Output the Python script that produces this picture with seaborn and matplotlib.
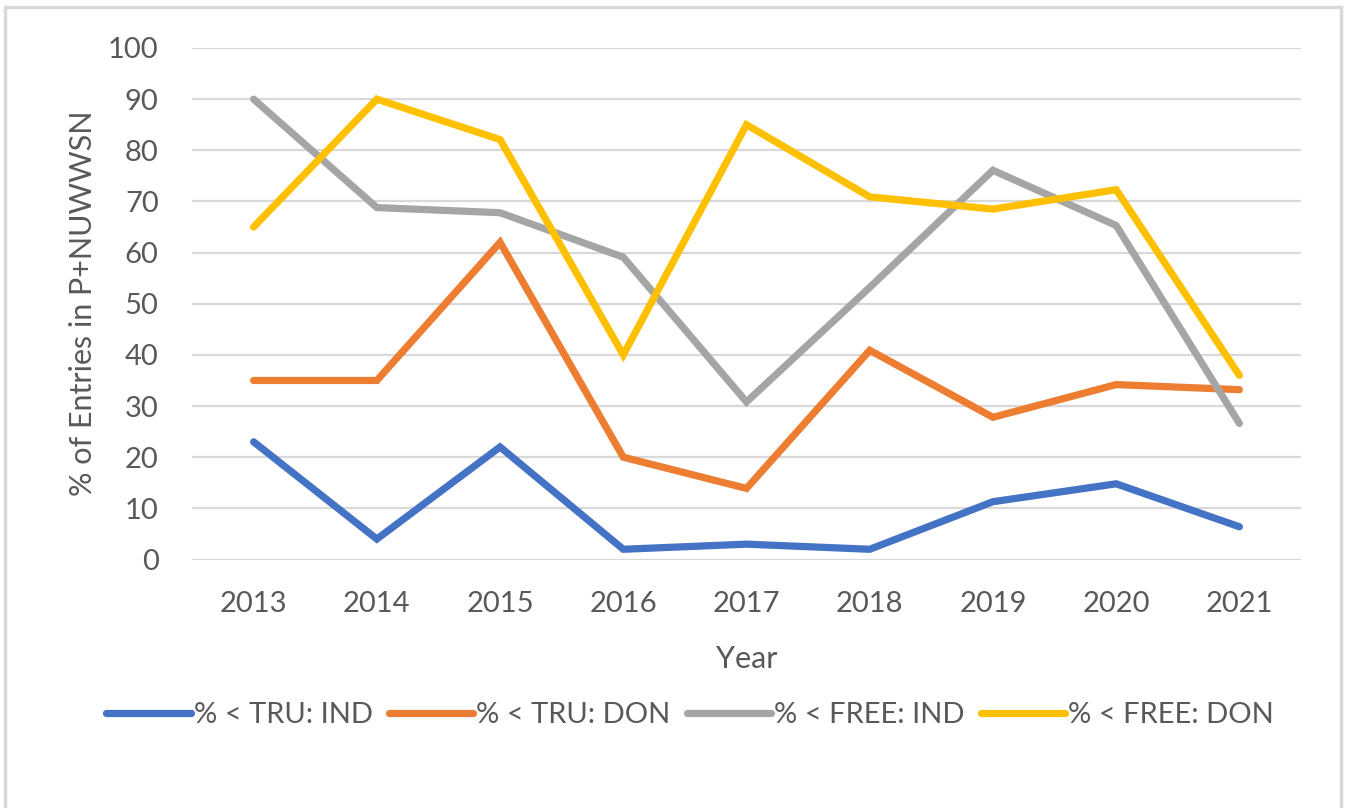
import matplotlib
matplotlib.use("Agg")
import matplotlib.pyplot as plt
import seaborn as sns
import pandas as pd
from matplotlib.patches import Rectangle

# data
years = [2013, 2014, 2015, 2016, 2017, 2018, 2019, 2020, 2021]
tru_ind = [23, 4, 22, 2, 3, 2, 11.3, 14.8, 6.4]
tru_don = [35, 35, 62, 20, 13.9, 40.9, 27.8, 34.2, 33.2]
free_ind = [90, 68.8, 67.8, 59.1, 30.8, 53.2, 76.1, 65.3, 26.6]
free_don = [65, 90, 82.1, 40, 85, 70.9, 68.5, 72.3, 36]
series_names = ["% < TRU: IND", "% < TRU: DON", "% < FREE: IND", "% < FREE: DON"]
colors = ["#4472C4", "#ED7D31", "#A5A5A5", "#FFC000"]

frames = []
for name, vals in zip(series_names, [tru_ind, tru_don, free_ind, free_don]):
    frames.append(pd.DataFrame({"Year": years, "value": vals, "series": name}))
df = pd.concat(frames, ignore_index=True)

sns.set_style("white")
plt.rcParams['font.family'] = ['Lato', 'DejaVu Sans']
text_color = "#595959"

fig = plt.figure(figsize=(13.45, 8.08), dpi=100)
ax = fig.add_axes([192 / 1345, 1 - 559.5 / 808, 1109 / 1345, 511.5 / 808])

sns.lineplot(data=df, x="Year", y="value", hue="series", hue_order=series_names,
             palette=colors, linewidth=5.2, ax=ax, legend=True)
for line in ax.get_lines():
    line.set_solid_capstyle("round")
    line.set_solid_joinstyle("miter")

ax.set_xlim(2012.5, 2021.5)
ax.set_ylim(0, 100)
ax.set_yticks(range(0, 101, 10))
ax.set_xticks(years)
ax.set_xticklabels([str(y) for y in years])
ax.grid(axis="y", color="#D9D9D9", linewidth=1.6)
ax.grid(axis="x", visible=False)
ax.set_axisbelow(True)
for s in ax.spines.values():
    s.set_visible(False)
ax.tick_params(axis="both", length=0, labelsize=21, colors=text_color)
ax.tick_params(axis="y", pad=24)
ax.tick_params(axis="x", pad=23)
ax.set_xlabel("Year", fontsize=22, color=text_color, labelpad=20)
ax.set_ylabel("% of Entries in P+NUWWSN", fontsize=22, color=text_color, labelpad=8)

handles, labels = ax.get_legend_handles_labels()
ax.legend(handles, labels, loc="center", bbox_to_anchor=(690 / 1345, 1 - 715 / 808),
          bbox_transform=fig.transFigure, ncol=4, frameon=False, fontsize=21,
          handlelength=2.9, handletextpad=0.1, columnspacing=0.55, labelcolor=text_color)
for h in ax.get_legend().get_lines():
    h.set_linewidth(5.2)
    h.set_solid_capstyle("round")

fig.patches.append(Rectangle((5 / 1345, -0.1), 1336 / 1345, 1.1 - 7 / 808,
                             transform=fig.transFigure, fill=False,
                             edgecolor="#D9D9D9", linewidth=2.5))

fig.savefig("out.png", dpi=100)
plt.close(fig)
